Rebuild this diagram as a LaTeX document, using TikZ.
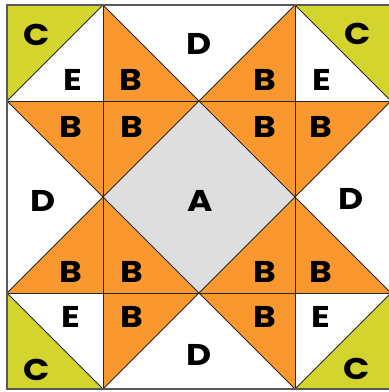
\documentclass[tikz,border=0pt]{standalone}
\usepackage{fontspec}
\setmainfont{Poppins}
\newfontfamily\piecefont[FakeStretch=1.15]{Poppins}
\usepackage{tikz}
\definecolor{patchorange}{HTML}{F8982F}
\definecolor{patchlime}{HTML}{D3D42E}
\definecolor{patchgrey}{HTML}{DEDEDE}
\tikzset{
  seam/.style   ={draw=black!85, line width=0.8pt, line join=miter},
  border/.style ={draw=black!65, line width=1.4pt},
  piece/.style  ={font=\piecefont\fontsize{30}{30}\selectfont\bfseries, inner sep=0pt},
}

\begin{document}
\begin{tikzpicture}[x=1pt, y=-1pt]
\useasboundingbox (0,0) rectangle (389,392);
\clip (0,0) rectangle (389,392);

% ---- background and fills ----
\fill[white] (7,5) rectangle (391,389);
% orange diamonds round the four quadrant centres
\foreach \cx/\cy in {103/101, 295/101, 103/293, 295/293}
  \fill[patchorange] (\cx,\cy-96) -- (\cx+96,\cy) -- (\cx,\cy+96) -- (\cx-96,\cy) -- cycle;
% E triangles (white) toward the corners
\fill[white] (7,101) -- (103,5) -- (103,101) -- cycle;
\fill[white] (391,101) -- (295,5) -- (295,101) -- cycle;
\fill[white] (7,293) -- (103,389) -- (103,293) -- cycle;
\fill[white] (391,293) -- (295,389) -- (295,293) -- cycle;
% C corners
\fill[patchlime] (7,5) -- (103,5) -- (7,101) -- cycle;
\fill[patchlime] (391,5) -- (295,5) -- (391,101) -- cycle;
\fill[patchlime] (7,389) -- (103,389) -- (7,293) -- cycle;
\fill[patchlime] (391,389) -- (295,389) -- (391,293) -- cycle;
% A centre square
\fill[patchgrey] (199,101) -- (295,197) -- (199,293) -- (103,197) -- cycle;

% ---- seams ----
\draw[seam] (103,5) -- (103,389);
\draw[seam] (295,5) -- (295,389);
\draw[seam] (7,101) -- (391,101);
\draw[seam] (7,293) -- (391,293);
\draw[seam] (7,101) -- (103,5) -- (199,101) -- (295,5) -- (391,101);
\draw[seam] (7,101) -- (103,197) -- (199,101) -- (295,197) -- (391,101);
\draw[seam] (7,293) -- (103,197) -- (199,293) -- (295,197) -- (391,293);
\draw[seam] (7,293) -- (103,389) -- (199,293) -- (295,389) -- (391,293);
\draw[border] (7,5) rectangle (391,389);

% ---- labels ----
\node[piece] (c1) at (37,35)  {C};
\node[piece] (c2) at (358,34) {C};
\node[piece] (c3) at (37,370) {C};
\node[piece] (c4) at (357,369) {C};

\node[piece] (e1) at (73,80)  {E};
\node[piece] (e2) at (322,80) {E};
\node[piece] (e3) at (71,317) {E};
\node[piece] (e4) at (321,317) {E};

\node[piece] (b1)  at (131,80)  {B};
\node[piece] (b2)  at (265,80)  {B};
\node[piece] (b3)  at (71,127)  {B};
\node[piece] (b4)  at (132,127) {B};
\node[piece] (b5)  at (265,127) {B};
\node[piece] (b6)  at (321,127) {B};
\node[piece] (b7)  at (71,272)  {B};
\node[piece] (b8)  at (132,272) {B};
\node[piece] (b9)  at (265,272) {B};
\node[piece] (b10) at (321,272) {B};
\node[piece] (b11) at (132,317) {B};
\node[piece] (b12) at (265,317) {B};

\node[piece] (d1) at (199,44)  {D};
\node[piece] (d2) at (43,201)  {D};
\node[piece] (d3) at (351,199) {D};
\node[piece] (d4) at (199,355) {D};

\node[piece] (a) at (200,201) {A};

\end{tikzpicture}
\end{document}
